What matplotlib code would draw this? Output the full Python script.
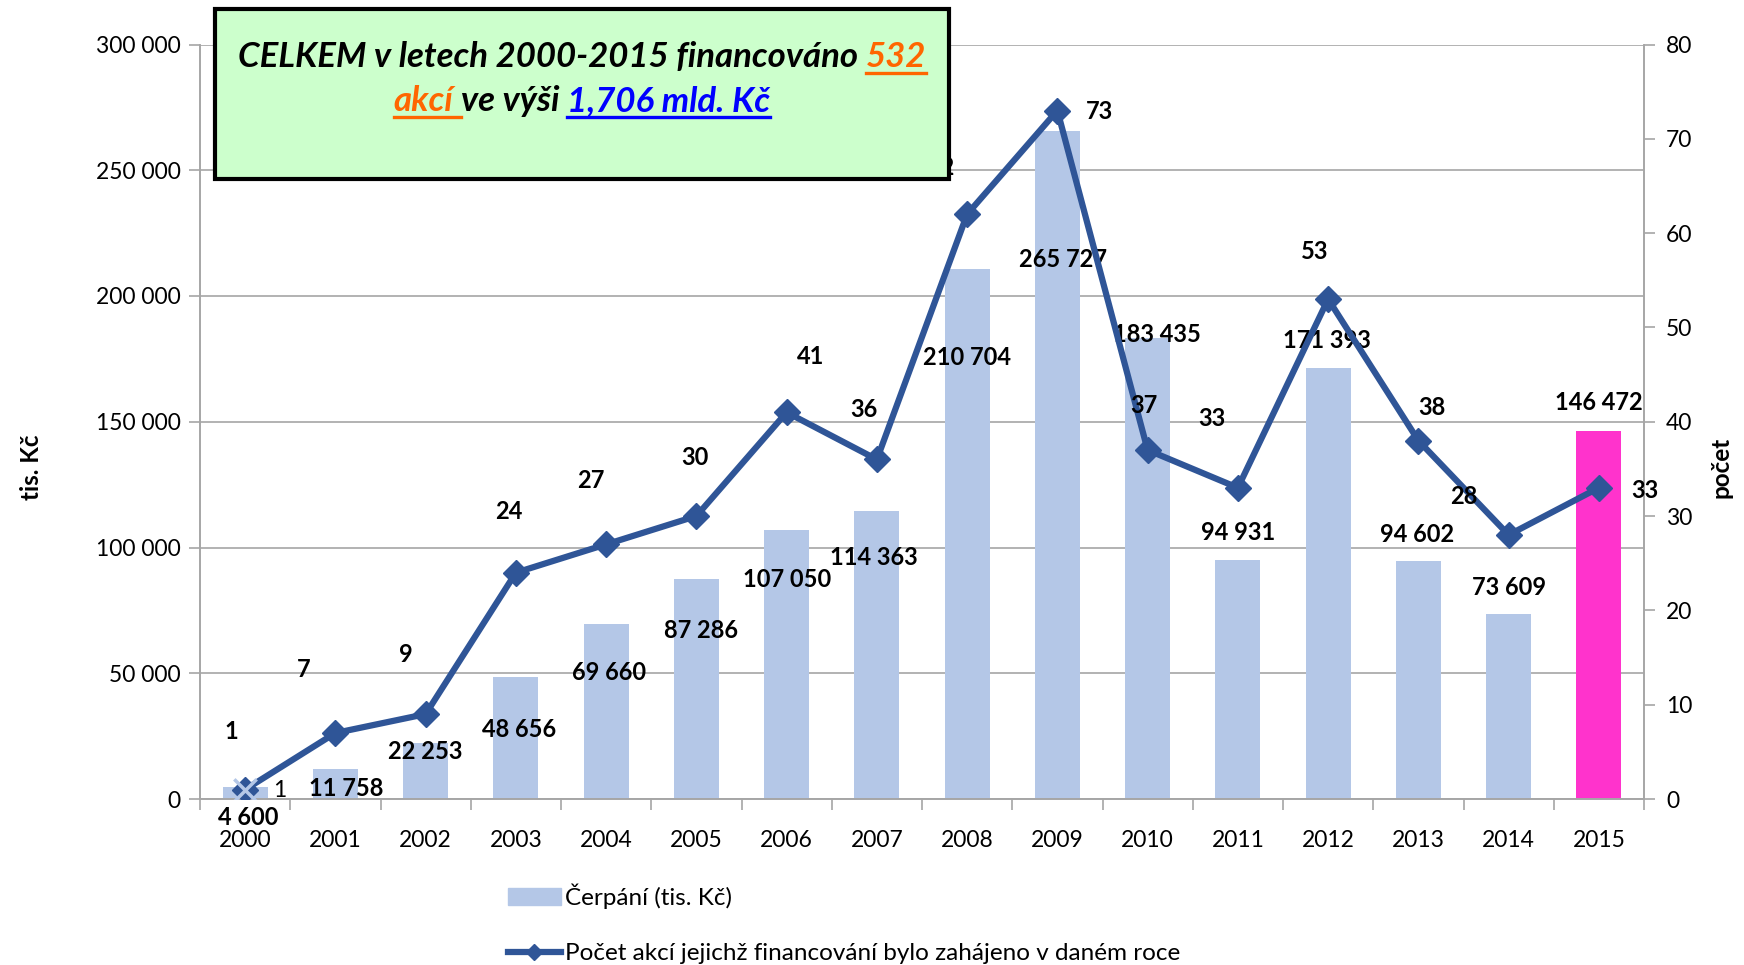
import numpy as np
import matplotlib
matplotlib.use("Agg")
import matplotlib.pyplot as plt
from matplotlib.patches import Rectangle, Patch
from matplotlib.lines import Line2D
from matplotlib.transforms import IdentityTransform
from matplotlib.ticker import FuncFormatter, MultipleLocator

plt.rcParams['font.family'] = ['Lato', 'DejaVu Sans']

years = ['2000', '2001', '2002', '2003', '2004', '2005', '2006', '2007',
         '2008', '2009', '2010', '2011', '2012', '2013', '2014', '2015']
cerpani = [4600, 11758, 22253, 48656, 69660, 87286, 107050, 114363,
           210704, 265727, 183435, 94931, 171393, 94602, 73609, 146472]
pocet = [1, 7, 9, 24, 27, 30, 41, 36, 62, 73, 37, 33, 53, 38, 28, 33]
extra_2000 = [1]

bar_label = 'Čerpání (tis. Kč)'
line_label = 'Počet akcí jejichž financování bylo zahájeno v daném roce'

# label offsets in points (dx, dy) from bar top / line point
bar_off = [(2, -22), (8, -14), (0, -6), (2, -38), (2, -35), (3, -37), (0, -36), (-2, -33),
           (0, -64), (4, -93), (7, 2), (0, 20), (-1, 20), (-1, 19), (0, 19), (0, 20)]
line_off = [(-10, 42), (-23, 46), (-14, 43), (-5, 44), (-11, 46), (-1, 42), (17, 40), (-9, 36),
            (-19, 34), (30, -1), (-3, 32), (-19, 50), (-10, 34), (10, 24), (-32, 28), (33, -2)]

bar_color = '#B4C7E7'
last_color = '#FF33CC'
line_color = '#2F5597'
grid_color = '#A6A6A6'

fig = plt.figure(figsize=(17.44, 9.65), dpi=100)
ax = fig.add_axes([200 / 1744, 1 - 799 / 965, 1444 / 1744, 754.5 / 965])
ax2 = ax.twinx()

x = np.arange(len(years))
colors = [bar_color] * (len(years) - 1) + [last_color]
ax.bar(x, cerpani, width=0.5, color=colors, zorder=2)

ax.set_ylim(0, 300000)
ax.set_xlim(-0.5, len(years) - 0.5)
ax.yaxis.set_major_locator(MultipleLocator(50000))
ax.yaxis.set_major_formatter(FuncFormatter(lambda v, p: f'{int(v):,}'.replace(',', ' ')))
ax.grid(axis='y', color=grid_color, linewidth=1.2, zorder=0)
ax.set_axisbelow(True)
ax.set_xticks(x)
ax.set_xticklabels(years)
ax.set_xticks(np.arange(-0.5, len(years), 1), minor=True)
ax.tick_params(axis='x', which='major', length=0, labelsize=16.5, pad=22)
ax.tick_params(axis='x', which='minor', length=8, color=grid_color, width=1.2)
ax.tick_params(axis='y', labelsize=16.5, length=8, color=grid_color, width=1.2, pad=6)
for a in (ax, ax2):
    a.spines['top'].set_visible(False)
    for s in ['left', 'right', 'bottom']:
        a.spines[s].set_color(grid_color)
        a.spines[s].set_linewidth(1.2)
ax.set_ylabel('tis. Kč', fontsize=17.5, fontweight='bold', labelpad=38, y=0.44)

ax2.plot(x, pocet, color=line_color, linewidth=4.5, marker='D', markersize=13,
         zorder=3)
ax2.scatter(x[:1], extra_2000, marker='x', s=260, color=bar_color, linewidths=2.5, zorder=4)
ax2.set_ylim(0, 80)
ax2.yaxis.set_major_locator(MultipleLocator(10))
ax2.tick_params(axis='y', labelsize=16.5, length=8, color=grid_color, width=1.2, pad=8)
ax2.set_ylabel('počet', fontsize=17.5, fontweight='bold', labelpad=12, y=0.44)
ax.set_zorder(1)
ax2.set_zorder(2)
ax2.patch.set_visible(False)

for i, v in enumerate(cerpani):
    ax.annotate(f'{v:,}'.replace(',', ' '), (x[i], v), xytext=bar_off[i],
                textcoords='offset points', ha='center', va='center',
                fontsize=17, fontweight='bold', zorder=5)
for i, v in enumerate(pocet):
    ax2.annotate(str(v), (x[i], v), xytext=line_off[i],
                 textcoords='offset points', ha='center', va='center',
                 fontsize=17, fontweight='bold', zorder=5)
ax2.annotate(str(extra_2000[0]), (x[0], extra_2000[0]), xytext=(25, -1),
             textcoords='offset points', ha='center', va='center', fontsize=16.5)

handles = [Patch(color=bar_color),
           Line2D([], [], color=line_color, linewidth=4.5, marker='D', markersize=8)]
fig.legend(handles, [bar_label, line_label], loc='upper left',
           bbox_to_anchor=(498 / 1744, 1 - 874 / 965), frameon=False, fontsize=17.5,
           handlelength=2.2, handletextpad=0.15, labelspacing=1.4, borderaxespad=0)

# highlighted summary box
fig.patches.append(Rectangle((215 / 1744, 1 - 179 / 965), 734 / 1744, 170 / 965,
                             transform=fig.transFigure, facecolor='#CCFFCC',
                             edgecolor='black', linewidth=3, zorder=10))

box_lines = [
    (965 - 67, [('CELKEM v letech 2000-2015 financováno ', 'black', False),
                ('532', '#FF6600', True)]),
    (965 - 111, [('akcí ', '#FF6600', True), ('ve výši ', 'black', False),
                 ('1,706 mld. Kč', '#0000FF', True)]),
]
txt_kw = dict(fontsize=25, fontweight='bold', fontstyle='italic')
renderer = fig.canvas.get_renderer()
probe = fig.text(0, 0, 'x x', **txt_kw)
w_sp = probe.get_window_extent(renderer).width
probe.set_text('xx')
space = w_sp - probe.get_window_extent(renderer).width
probe.remove()
cx = 582
for base_y, parts in box_lines:
    items = []
    total = 0
    for s, c, u in parts:
        t = fig.text(0, base_y, s.strip(), color=c, transform=IdentityTransform(),
                     ha='left', va='baseline', zorder=11, **txt_kw)
        w = t.get_window_extent(renderer).width
        lead = space * (len(s) - len(s.lstrip()))
        trail = space * (len(s) - len(s.rstrip()))
        items.append((t, lead, w, trail, u, c))
        total += lead + w + trail
    xpos = cx - total / 2
    for t, lead, w, trail, u, c in items:
        t.set_x(xpos + lead)
        if u:
            fig.add_artist(Line2D([xpos + lead, xpos + lead + w + trail],
                                  [base_y - 6, base_y - 6], color=c, linewidth=2.4,
                                  transform=IdentityTransform(), zorder=11))
        xpos += lead + w + trail

fig.savefig('out.png', dpi=100)
